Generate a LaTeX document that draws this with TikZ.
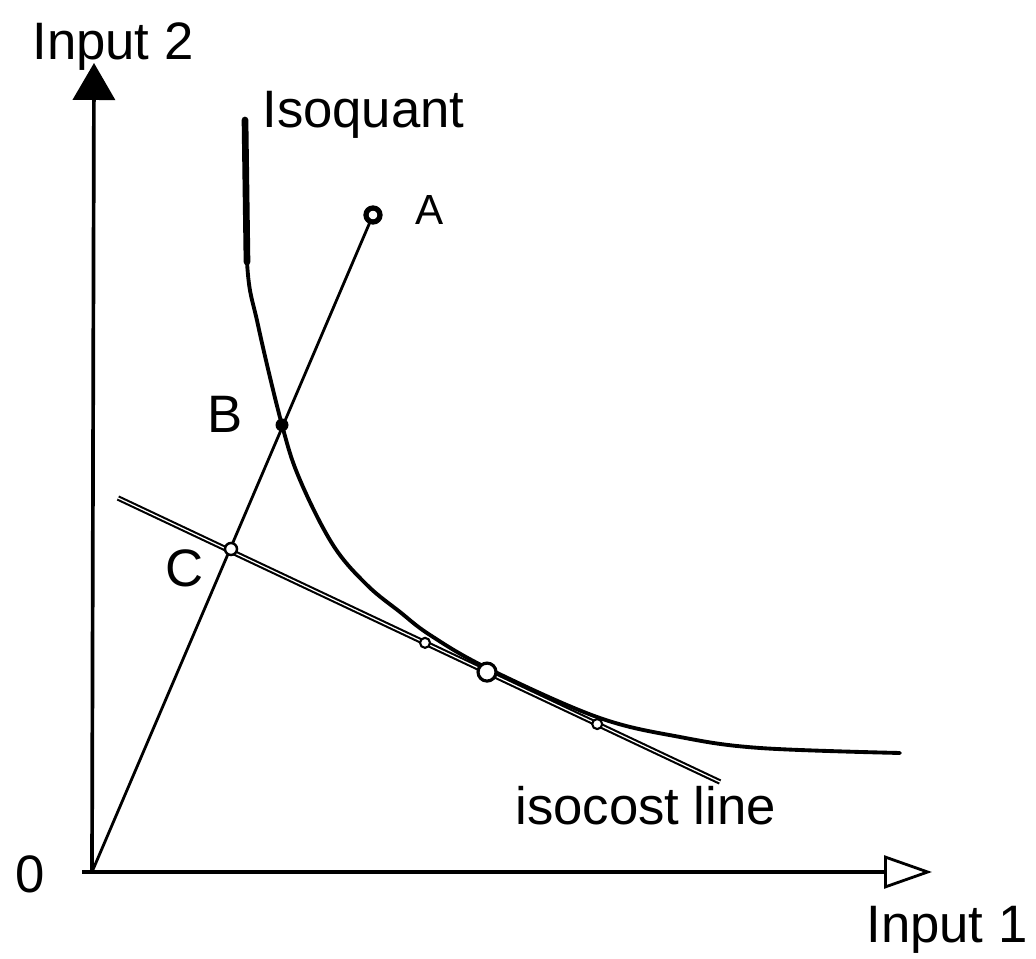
\documentclass[tikz,border=0pt]{standalone}
\usepackage{fontspec}
\setmainfont{Liberation Sans}
\usetikzlibrary{arrows.meta, positioning, calc}

\begin{document}
\begin{tikzpicture}[
  x=0.02cm, y=-0.02cm,
  axisline/.style={line width=2.1pt},
  rayline/.style={line width=1.6pt},
  costline/.style={line width=1.2pt, double, double distance=0.7pt},
  quantline/.style={line width=2.2pt, line join=round, line cap=round},
  lbl/.style={font=\fontsize{30}{36}\selectfont, inner sep=0pt, anchor=base west},
  smalllbl/.style={font=\fontsize{24}{28}\selectfont, inner sep=0pt, anchor=base west},
  ring/.style={draw, fill=white, line width=#1},
]

% Canvas: pixel grid of the reference, y pointing down
\useasboundingbox (0,0) rectangle (1036,959);

% --- Points ---
\coordinate (O) at (92,872);
\coordinate (ytip) at (94,63);
\coordinate (xstart) at (82,872);
\coordinate (xtip) at (932,872);
\coordinate (A) at (373,215);
\coordinate (B) at (282,425);
\coordinate (C) at (231,549);
\coordinate (costL) at (118,498);
\coordinate (costR) at (720,782);
\coordinate (T) at ($(costL)!0.613!(costR)$);
\coordinate (S1) at ($(costL)!0.51!(costR)$);
\coordinate (S2) at ($(costL)!0.796!(costR)$);

% --- Axes ---
\draw[axisline, -{Triangle[length=0.74cm, width=0.84cm]}] (O) -- (ytip);
\draw[axisline, -{Triangle[open, length=0.96cm, width=0.66cm, line width=1.6pt]}]
  (xstart) -- (xtip);

% --- Ray from the origin to A ---
\draw[rayline] (O) -- (A);

% --- Isocost line ---
\draw[costline] (costL) -- (costR);

% --- Isoquant ---
\draw[line width=3.8pt, line cap=round] (245,120) -- (247,262);
\draw[quantline] plot[smooth, tension=0.6] coordinates {
  (245,120) (247,262) (258,325) (B) (300,480) (333,545) (367,585)
  (400,612) (430,635) (487,668) (597,717) (680,737) (760,748) (900,753)};

% --- Marks on the curves ---
\draw[ring=3pt] (A) circle (7);
\fill (B) circle (6.5);
\draw[ring=1.4pt] (C) circle (6);
\draw[ring=1.2pt] (S1) circle (5);
\draw[ring=1.2pt] (S2) circle (5);
\draw[ring=1.8pt] (T) circle (9);

% --- Labels ---
\node[lbl] (in2) at (32,60) {Input 2};
\node[lbl] (isoq) at (262,128) {Isoquant};
\node[smalllbl] (labA) at (415,225) {A};
\node[lbl] (labB) at (207,433) {B};
\node[lbl] (labC) at (165,587) {C};
\node[lbl] (zero) at (15,893) {0};
\node[lbl] (isoc) at (515,825) {isocost line};
\node[lbl] (in1) at (866,943) {Input 1};

\end{tikzpicture}
\end{document}
